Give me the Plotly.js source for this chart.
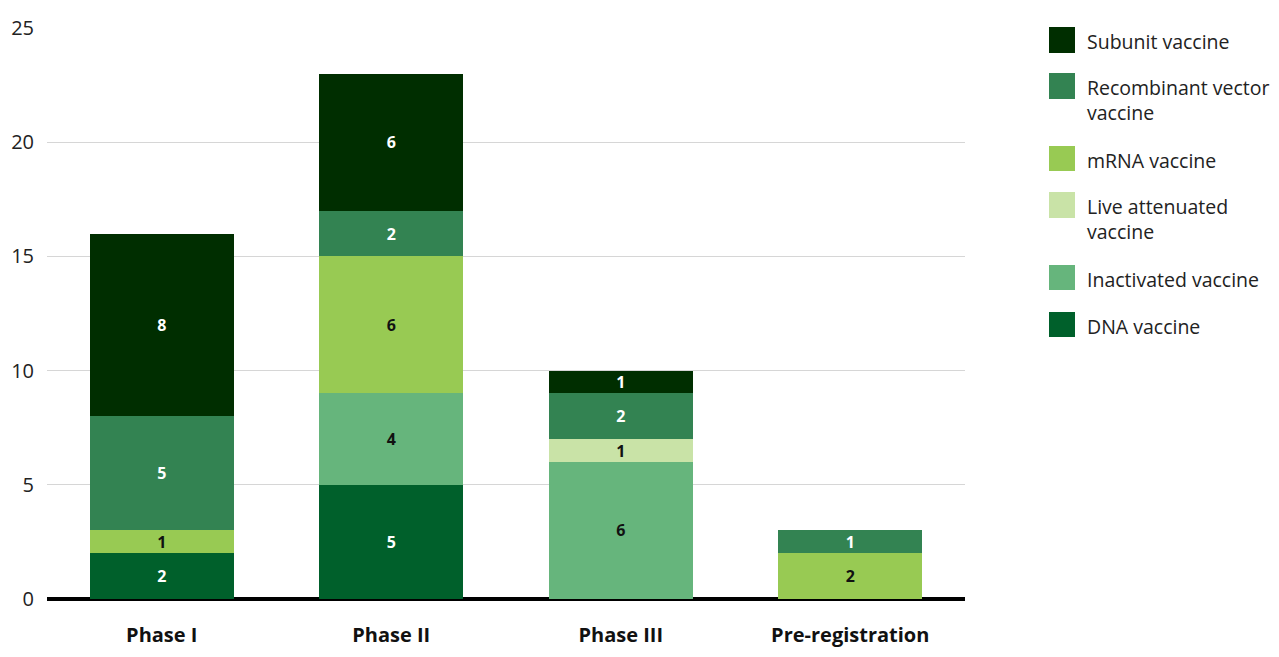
<!DOCTYPE html>
<html>
<head>
<meta charset="utf-8">
<script src="https://cdn.plot.ly/plotly-3.0.1.min.js"></script>
<style>html,body{margin:0;padding:0;background:#fff;}#chart{width:1279px;height:657px;}</style>
</head>
<body>
<div id="chart"></div>
<script>
const categories = ["Phase I", "Phase II", "Phase III", "Pre-registration"];
// stacking order bottom -> top
const seriesNames = ["DNA vaccine", "Inactivated vaccine", "Live attenuated vaccine", "mRNA vaccine", "Recombinant vector vaccine", "Subunit vaccine"];
const dnaValues = [2, 5, 0, 0];
const inactivatedValues = [0, 4, 6, 0];
const liveAttenuatedValues = [0, 0, 1, 0];
const mrnaValues = [1, 6, 0, 2];
const recombinantValues = [5, 2, 2, 1];
const subunitValues = [8, 6, 1, 0];
const seriesValues = [dnaValues, inactivatedValues, liveAttenuatedValues, mrnaValues, recombinantValues, subunitValues];
const seriesColors = ["#00602b", "#66b57c", "#c9e3a7", "#98ca53", "#338352", "#002e00"];
const textColors = ["#ffffff", "#111111", "#111111", "#111111", "#ffffff", "#ffffff"];
// legend order top -> bottom with display lines
const legendOrder = [5, 4, 3, 2, 1, 0];
const legendLabels = {
  5: "Subunit vaccine",
  4: "Recombinant vector<br>vaccine",
  3: "mRNA vaccine",
  2: "Live attenuated<br>vaccine",
  1: "Inactivated vaccine",
  0: "DNA vaccine"
};

const FONT = "'Open Sans', 'Noto Sans', sans-serif";

const traces = seriesValues.map((vals, i) => ({
  type: 'bar',
  name: seriesNames[i],
  x: categories,
  y: vals,
  text: vals.map(v => v > 0 ? String(v) : ''),
  texttemplate: '%{text}',
  textposition: 'inside',
  insidetextanchor: 'middle',
  textangle: 0,
  textfont: {family: FONT, size: 16, color: textColors[i], weight: 'bold'},
  marker: {color: seriesColors[i], line: {width: 0}},
  hoverinfo: 'x+y+name',
  showlegend: false
}));

// plot area in pixels
const L = 47, R = 965, T = 28, B = 599;
const W = R - L, H = B - T;
const px2x = p => (p - L) / W;
const py2y = p => (B - p) / H;

const legendSquares = [[27, 53], [73, 99], [146, 171], [192, 218], [265, 290], [312, 337]];
const shapes = [];
const annotations = [];
legendOrder.forEach((si, k) => {
  const [y0, y1] = legendSquares[k];
  shapes.push({
    type: 'rect', xref: 'paper', yref: 'paper',
    x0: px2x(1049), x1: px2x(1075), y0: py2y(y1), y1: py2y(y0),
    fillcolor: seriesColors[si], line: {width: 0}
  });
  annotations.push({
    xref: 'paper', yref: 'paper', x: px2x(1085), y: py2y(y0 - 1),
    xanchor: 'left', yanchor: 'top', align: 'left', showarrow: false,
    text: legendLabels[si],
    font: {family: FONT, size: 19.5, color: '#222222'}
  });
});

const layout = {
  width: 1279, height: 657,
  margin: {l: L, r: 1279 - R, t: T, b: 657 - B, pad: 0},
  paper_bgcolor: '#ffffff', plot_bgcolor: '#ffffff',
  barmode: 'stack',
  bargap: 0.373,
  showlegend: false,
  font: {family: FONT, color: '#222222'},
  uniformtext: {minsize: 16, mode: 'show'},
  xaxis: {
    type: 'category',
    showgrid: false, showline: false, zeroline: false,
    ticks: '',
    tickfont: {family: FONT, size: 20, color: '#111111', weight: 'bold'},
    ticklabelstandoff: 22,
    fixedrange: true
  },
  yaxis: {
    range: [0, 25],
    tickvals: [0, 5, 10, 15, 20, 25],
    showgrid: true, gridcolor: '#d6d6d6', gridwidth: 1,
    zeroline: true, zerolinecolor: '#000000', zerolinewidth: 4,
    showline: false, ticks: '',
    tickfont: {family: FONT, size: 20, color: '#222222'},
    ticklabelstandoff: 12,
    fixedrange: true
  },
  shapes: shapes,
  annotations: annotations
};

Plotly.newPlot('chart', traces, layout, {displayModeBar: false, staticPlot: true});
</script>
</body>
</html>
